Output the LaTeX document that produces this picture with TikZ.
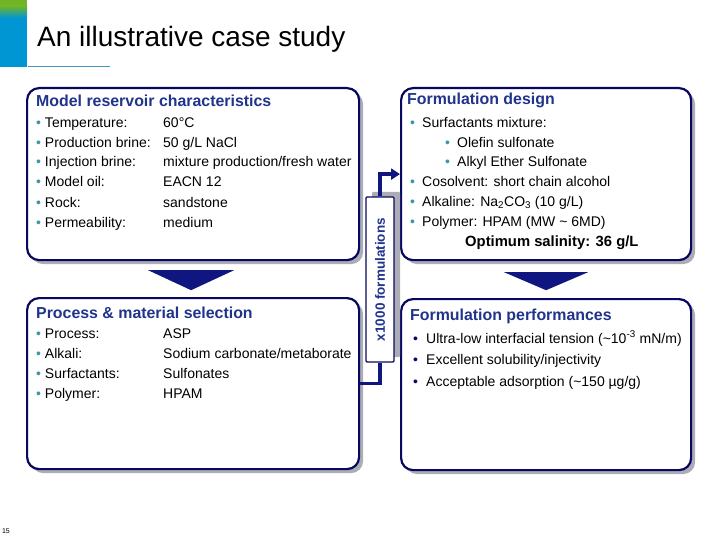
\documentclass[tikz,border=0pt]{standalone}
\usepackage{fontspec}
\setmainfont{Liberation Sans}
\usetikzlibrary{arrows.meta,positioning,calc,shadows}

\definecolor{boxnavy}{RGB}{8,8,96}
\definecolor{headblue}{RGB}{32,52,140}
\definecolor{bulletteal}{RGB}{60,150,170}
\definecolor{arrowblue}{RGB}{16,22,128}
\definecolor{shadowgray}{RGB}{172,172,182}
\definecolor{accentblue}{RGB}{0,150,212}
\definecolor{accentgreen}{RGB}{112,180,40}
\definecolor{rulecyan}{RGB}{70,150,200}

\newcommand{\headfont}{\fontsize{15.9}{20}\selectfont\bfseries\color{headblue}}
\newcommand{\bul}{{\color{bulletteal}\textbullet}\ }
\newcommand{\itemrow}[2]{\makebox[127pt][l]{\bul#1}#2}
\newcommand{\dotitem}[2][3pt]{\hspace*{#1}\makebox[12pt][l]{\color{bulletteal}\textbullet}#2}
\newcommand{\navyitem}[1]{\hspace*{3pt}\makebox[13pt][l]{\color{boxnavy}\textbullet}#1}

\tikzset{
  panel/.style={draw=boxnavy, line width=2.2pt, rounded corners=12pt, fill=white,
    anchor=north west,
    drop shadow={shadow xshift=4pt, shadow yshift=-4pt, fill=shadowgray, opacity=1}},
  % base anchor sits on the last line
  paneltext/.style={anchor=base west, align=left, inner sep=0pt,
    font=\fontsize{14}{20}\selectfont},
  link/.style={draw=arrowblue, line width=3.2pt},
}

\begin{document}
\begin{tikzpicture}[x=1pt, y=-1pt]
  \useasboundingbox (0,0) rectangle (720,540);

  % header
  \fill[accentgreen] (0,0) rectangle (27,6);
  \shade[top color=accentgreen, bottom color=accentblue] (0,6) rectangle (27,18);
  \fill[accentblue] (0,18) rectangle (27,67);
  \draw[rulecyan, line width=0.8pt] (28,66.5) -- (110,66.5);
  \node[anchor=base west, inner sep=0pt, font=\fontsize{28}{30}\selectfont] (title) at (37,47)
       {An illustrative case study};

  % panels
  \node[panel, minimum width=332pt, minimum height=172pt] (reservoir) at (26,87) {};
  \node[panel, minimum width=290pt, minimum height=172pt] (design) at (400,87) {};
  \node[panel, minimum width=332pt, minimum height=171pt] (process) at (26,297) {};
  \node[panel, minimum width=290pt, minimum height=171pt] (perf) at (400,298) {};

  \node[paneltext] (reservoirtxt) at (36,227)
       {{\headfont Model reservoir characteristics}\\
        \itemrow{Temperature:}{60°C}\\
        \itemrow{Production brine:}{50 g/L NaCl}\\
        \itemrow{Injection brine:}{mixture production/fresh water}\\
        \itemrow{Model oil:}{EACN 12}\\
        \itemrow{Rock:}{sandstone}\\
        \itemrow{Permeability:}{medium}};

  \node[paneltext, font=\fontsize{14}{19.8}\selectfont] (designtxt) at (407,246)
       {{\headfont Formulation design}\\[2.5pt]
        \dotitem{Surfactants mixture:}\\
        \dotitem[38pt]{Olefin sulfonate}\\
        \dotitem[38pt]{Alkyl Ether Sulfonate}\\
        \dotitem{Cosolvent: short chain alcohol}\\
        \dotitem{Alkaline: Na\textsubscript{2}CO\textsubscript{3} (10 g/L)}\\
        \dotitem{Polymer: HPAM (MW \textasciitilde{} 6MD)}\\
        \hspace*{58pt}{\fontsize{14.8}{19.8}\selectfont\bfseries Optimum salinity: 36 g/L}};

  \node[paneltext] (processtxt) at (36,398)
       {{\headfont Process \& material selection}\\
        \itemrow{Process:}{ASP}\\
        \itemrow{Alkali:}{Sodium carbonate/metaborate}\\
        \itemrow{Surfactants:}{Sulfonates}\\
        \itemrow{Polymer:}{HPAM}};

  \node[paneltext, font=\fontsize{14}{21.5}\selectfont] (perftxt) at (410,386)
       {{\headfont Formulation performances}\\[1pt]
        \navyitem{Ultra-low interfacial tension (\textasciitilde10\textsuperscript{-3} mN/m)}\\
        \navyitem{Excellent solubility/injectivity}\\
        \navyitem{Acceptable adsorption (\textasciitilde150 µg/g)}};

  % screening loop
  \node[draw=boxnavy, line width=1.3pt, fill=white, rounded corners=1pt,
        minimum width=28pt, minimum height=165pt, inner sep=0pt,
        drop shadow={shadow xshift=6pt, shadow yshift=5pt, fill=shadowgray, opacity=1},
        font=\fontsize{13.5}{15}\selectfont\bfseries\color{headblue}] (screen) at (380,279.5)
       {\rotatebox{90}{x1000 formulations}};
  \draw[link] (process.east) -| (screen.south);
  \draw[link, -{Triangle[length=9pt, width=11pt]}] (screen.north) |- (design.west);

  % down arrows
  \fill[arrowblue] ($(reservoir.south)+(-45,9)$) -- ++(86,0) -- ($(reservoir.south)+(-2,29)$) -- cycle;
  \fill[arrowblue] ($(design.south)+(-42,11)$) -- ++(84,0) -- ($(design.south)+(0,29)$) -- cycle;

  \node[font=\fontsize{7}{8}\selectfont, inner sep=0pt] (pagenum) at (6,531) {15};
\end{tikzpicture}
\end{document}
